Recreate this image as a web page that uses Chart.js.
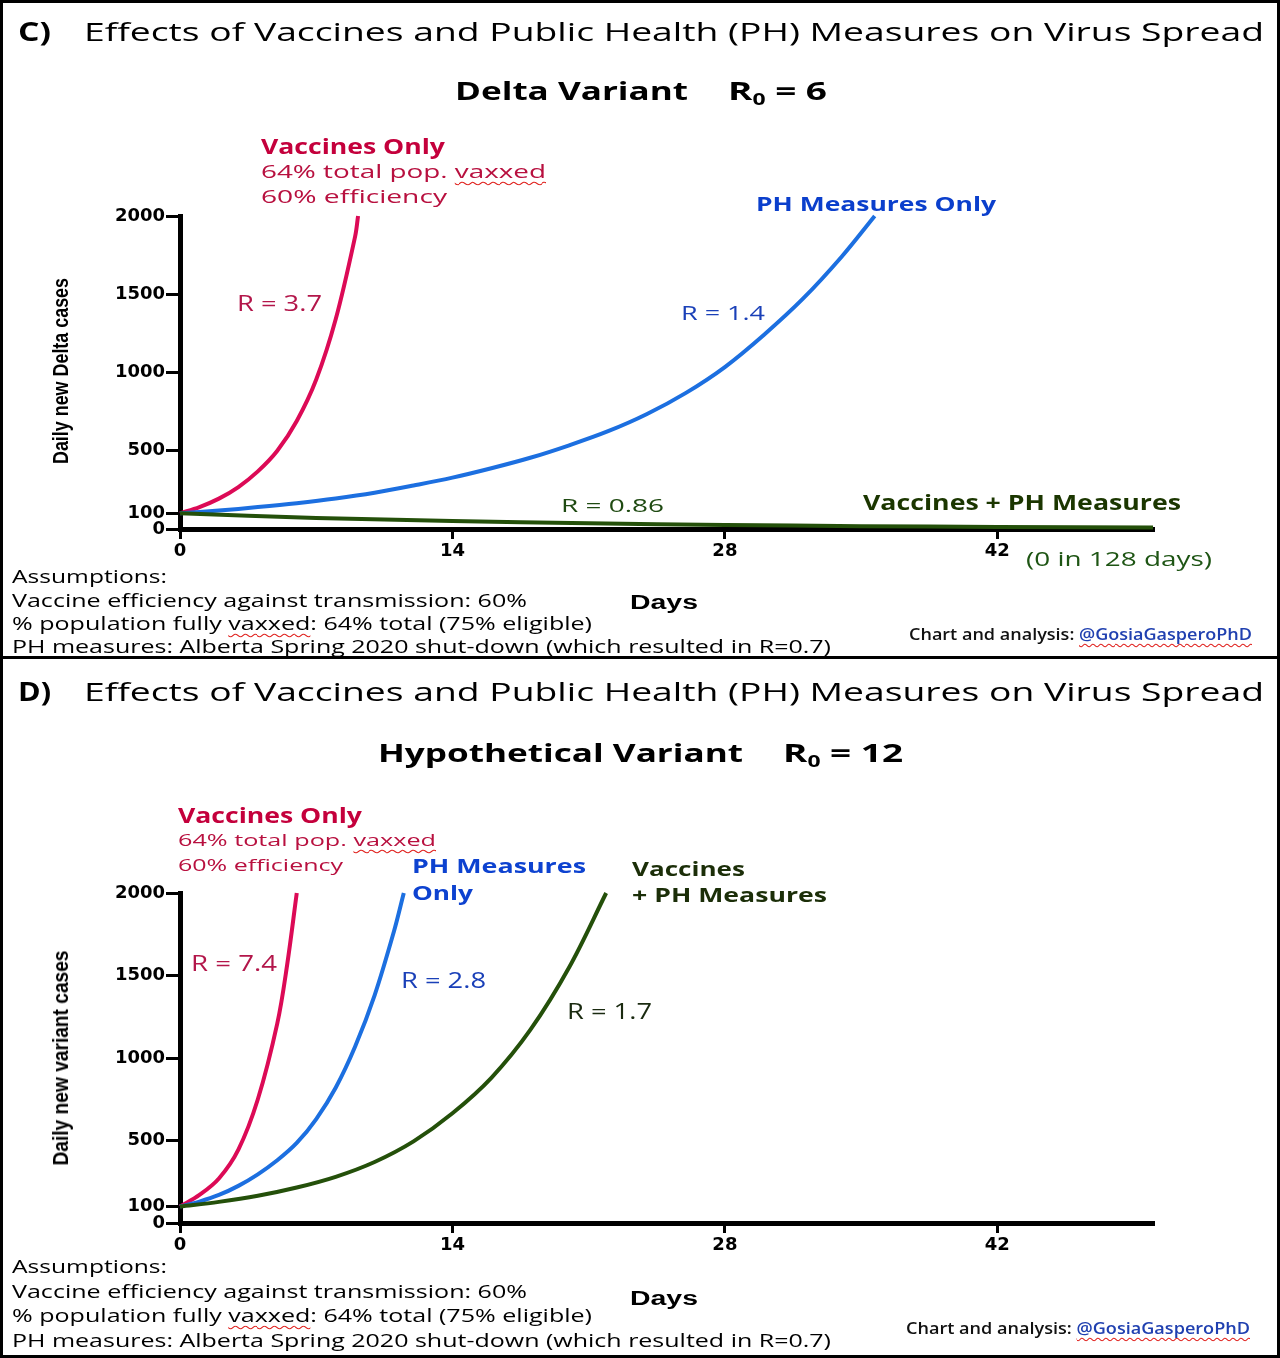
<!DOCTYPE html>
<html>
<head>
<meta charset="utf-8">
<script src="https://cdn.jsdelivr.net/npm/chart.js@4.4.1/dist/chart.umd.min.js"></script>
<style>
body { margin: 0; background: #fff; }
#page { position: relative; width: 1280px; height: 1358px; overflow: hidden; background: #fff; }
.panel { position: absolute; left: 0; width: 1280px; box-sizing: border-box; border: 3px solid #000; }
canvas { position: absolute; left: 0; }
.lbl { position: absolute; white-space: nowrap; line-height: 1; transform-origin: 0 0; }
.vax { text-decoration: underline wavy #e0201c; text-decoration-thickness: 1px; text-underline-offset: 3px; text-decoration-skip-ink: none; }
</style>
</head>
<body>
<div id="page">
  <div class="panel" style="top:0;height:659px"></div>
  <div class="panel" style="top:656px;height:702px"></div>
  <canvas id="chartC" width="1280" height="657" style="top:0"></canvas>
  <canvas id="chartD" width="1280" height="701" style="top:657px"></canvas>
</div>
<script>
// axis ticks
const xTicks = [0, 14, 28, 42];
const yTicks = [0, 100, 500, 1000, 1500, 2000];

// C) Delta variant, R0 = 6  (days / daily new cases, read off the picture)
const daysC_vax = [0, 1, 2, 3, 4, 5, 6, 7, 8, 9, 9.15];
const casesC_vax = [100, 140, 194, 268, 368, 500, 690, 955, 1340, 1870, 2000];
const daysC_ph = [0, 2, 4, 6, 8, 10, 12, 14, 16, 18, 20, 22, 24, 26, 28, 30, 32, 34, 35.7];
const casesC_ph = [100, 118, 140, 165, 195, 232, 278, 328, 388, 455, 535, 625, 735, 870, 1035, 1240, 1470, 1740, 2000];
const daysC_both = [0, 7, 14, 21, 28, 35, 42, 50];
const casesC_both = [100, 71, 51, 36, 26, 18, 13, 9];

// D) Hypothetical variant, R0 = 12
const daysD_vax = [0, 1, 2, 3, 4, 5, 5.5, 6];
const casesD_vax = [100, 170, 270, 445, 750, 1210, 1560, 2000];
const daysD_ph = [0, 1, 2, 3, 4, 5, 6, 7, 8, 9, 10, 11, 11.5];
const casesD_ph = [100, 130, 170, 225, 295, 380, 485, 630, 820, 1070, 1380, 1770, 2000];
const daysD_both = [0, 2, 4, 6, 8, 10, 12, 14, 16, 18, 20, 21.9];
const casesD_both = [100, 128, 165, 215, 280, 370, 495, 665, 880, 1170, 1550, 2000];

const RED = '#dc0a56', BLUE = '#1c6fe0', GREEN = '#24500a';

function pts(xs, ys) {
    return xs.map((x, i) => ({ x: x, y: ys[i] }));
}

function line(xs, ys, color) {
    return {
        data: pts(xs, ys),
        borderColor: color,
        borderWidth: 4,
        pointRadius: 0,
        tension: 0.35,
        clip: false
    };
}

const tickFont = { family: 'DejaVu Sans', weight: 'bold', size: 18 };

function makeChart(id, datasets, padding) {
    return new Chart(document.getElementById(id), {
        type: 'line',
        data: { datasets: datasets },
        options: {
            responsive: false,
            animation: false,
            devicePixelRatio: 1,
            layout: { padding: padding },
            plugins: { legend: { display: false }, tooltip: { enabled: false } },
            scales: {
                x: {
                    type: 'linear',
                    min: 0,
                    max: 50,
                    afterBuildTicks: s => { s.ticks = xTicks.map(v => ({ value: v })); },
                    afterFit: s => { s.height = 40; },
                    grid: { drawOnChartArea: false, drawTicks: true, tickLength: 10, lineWidth: 3, color: '#000' },
                    border: { display: true, width: 5, color: '#000' },
                    ticks: { color: '#000', font: tickFont, padding: 2, autoSkip: false, maxRotation: 0, callback: v => String(v) }
                },
                y: {
                    type: 'linear',
                    min: 0,
                    max: 2000,
                    afterBuildTicks: s => { s.ticks = yTicks.map(v => ({ value: v })); },
                    afterFit: s => { s.width = 180; },
                    grid: { drawOnChartArea: false, drawTicks: true, tickLength: 14, lineWidth: 3, color: '#000' },
                    border: { display: true, width: 5, color: '#000' },
                    ticks: { color: '#000', font: tickFont, padding: 1, autoSkip: false, callback: v => String(v) }
                }
            }
        }
    });
}

makeChart('chartC', [
    line(daysC_both, casesC_both, GREEN),
    line(daysC_ph, casesC_ph, BLUE),
    line(daysC_vax, casesC_vax, RED)
], { left: 0, top: 216, right: 127, bottom: 88 });

makeChart('chartD', [
    line(daysD_both, casesD_both, GREEN),
    line(daysD_ph, casesD_ph, BLUE),
    line(daysD_vax, casesD_vax, RED)
], { left: 0, top: 236, right: 127, bottom: 95 });

// text around the plots
const OS = 'Open Sans', LS = 'Liberation Sans';
const MID = { 'Open Sans': 0.531, 'Liberation Sans': 0.488, 'DejaVu Sans': 0.482 };
const TITLE = 'Effects of Vaccines and Public Health (PH) Measures on Virus Spread';
const SUB0 = '<span style="font-size:0.62em;position:relative;top:0.3em">0</span>';
const VAX = '<span class="vax">vaxxed</span>';
const CREDIT = 'Chart and analysis: <span class="vax" style="color:#2040b0">@GosiaGasperoPhD</span>';
const A1 = 'Assumptions:';
const A2 = 'Vaccine efficiency against transmission: 60%';
const A3 = '% population fully ' + VAX + ': 64% total (75% eligible)';
const A4 = 'PH measures: Alberta Spring 2020 shut-down (which resulted in R=0.7)';

// [html, x, y centre, width, size, weight, colour, family]
const labels = [
    ['C)', 18, 31.7, 33, 26, 700, '#000', OS],
    [TITLE, 84, 31.7, 1180, 26, 500, '#000', OS],
    ['Delta Variant', 455, 91.5, 233, 25, 700, '#000', OS],
    ['R' + SUB0 + ' = 6', 728, 91.5, 99, 25, 700, '#000', OS],
    ['Vaccines Only', 261, 145.5, 184, 22, 700, '#c4003c', OS],
    ['64% total pop. ' + VAX, 261, 171.7, 285, 19, 500, '#b8103f', OS],
    ['60% efficiency', 261, 197, 186, 19, 500, '#b8103f', OS],
    ['PH Measures Only', 756, 205.5, 240, 19, 700, '#0b3fcc', OS],
    ['R = 3.7', 237, 304, 85, 21, 500, '#b3164a', OS],
    ['R = 1.4', 681, 314, 84, 20, 500, '#1a40b8', OS],
    ['R = 0.86', 561, 506, 103, 19, 500, '#1f4a12', OS],
    ['Vaccines + PH Measures', 863, 503, 318, 21, 700, '#1b3600', OS],
    ['(0 in 128 days)', 1026, 560, 186, 20, 500, '#1e5514', OS],
    ['Days', 630, 602, 68, 20, 700, '#000', LS],
    [A1, 12, 577, 155, 18, 500, '#000', OS],
    [A2, 12, 600.5, 515, 18, 500, '#000', OS],
    [A3, 12, 623.5, 580, 18, 500, '#000', OS],
    [A4, 12, 647, 819, 18, 500, '#000', OS],
    [CREDIT, 909, 634.5, 343, 16, 600, '#111', OS],

    ['D)', 18, 691.5, 33, 26, 700, '#000', OS],
    [TITLE, 84, 691.5, 1180, 26, 500, '#000', OS],
    ['Hypothetical Variant', 378, 753.5, 365, 25, 700, '#000', OS],
    ['R' + SUB0 + ' = 12', 783, 753.5, 120, 25, 700, '#000', OS],
    ['Vaccines Only', 178, 815, 184, 22, 700, '#c4003c', OS],
    ['64% total pop. ' + VAX, 178, 840, 258, 17, 500, '#b8103f', OS],
    ['60% efficiency', 178, 865, 165, 17, 500, '#b8103f', OS],
    ['PH Measures', 412, 866.5, 174, 20, 700, '#0d42d0', OS],
    ['Only', 412, 894, 61, 20, 700, '#0d42d0', OS],
    ['Vaccines', 632, 870, 113, 20, 700, '#1b2e08', OS],
    ['+ PH Measures', 632, 895.5, 195, 20, 700, '#1b2e08', OS],
    ['R = 7.4', 191, 963.7, 86, 21, 500, '#b3164a', OS],
    ['R = 2.8', 401, 981, 85, 21, 500, '#1a40b8', OS],
    ['R = 1.7', 567, 1012, 85, 21, 500, '#1a2a10', OS],
    ['Days', 630, 1298, 68, 20, 700, '#000', LS],
    [A1, 12, 1266.5, 155, 18, 500, '#000', OS],
    [A2, 12, 1291.5, 515, 18, 500, '#000', OS],
    [A3, 12, 1316, 580, 18, 500, '#000', OS],
    [A4, 12, 1340.5, 819, 18, 500, '#000', OS],
    [CREDIT, 906, 1328, 344, 16, 600, '#111', OS]
];

const page = document.getElementById('page');

function makeText(html, size, weight, color, family) {
    const el = document.createElement('div');
    el.className = 'lbl';
    el.innerHTML = html;
    el.style.fontFamily = '"' + family + '"';
    el.style.fontSize = size + 'px';
    el.style.fontWeight = weight;
    el.style.color = color;
    page.appendChild(el);
    return el;
}

labels.forEach(([html, x, yc, w, size, weight, color, family]) => {
    const el = makeText(html, size, weight, color, family);
    el.style.left = x + 'px';
    el.style.top = (yc - size * MID[family]) + 'px';
    const nat = el.getBoundingClientRect().width;
    el.style.transform = 'scaleX(' + (w / nat) + ')';
});

// rotated y axis titles: [text, centre x, centre y, length]
[
    ['Daily new Delta cases', 61, 371, 186],
    ['Daily new variant cases', 61, 1058, 215]
].forEach(([text, cx, cy, len]) => {
    const el = makeText(text, 22, 700, '#000', LS);
    el.style.left = cx + 'px';
    el.style.top = cy + 'px';
    const nat = el.getBoundingClientRect().width;
    el.style.transform = 'rotate(-90deg) scaleX(' + (len / nat) + ') translate(-50%,-50%)';
});
</script>
</body>
</html>
